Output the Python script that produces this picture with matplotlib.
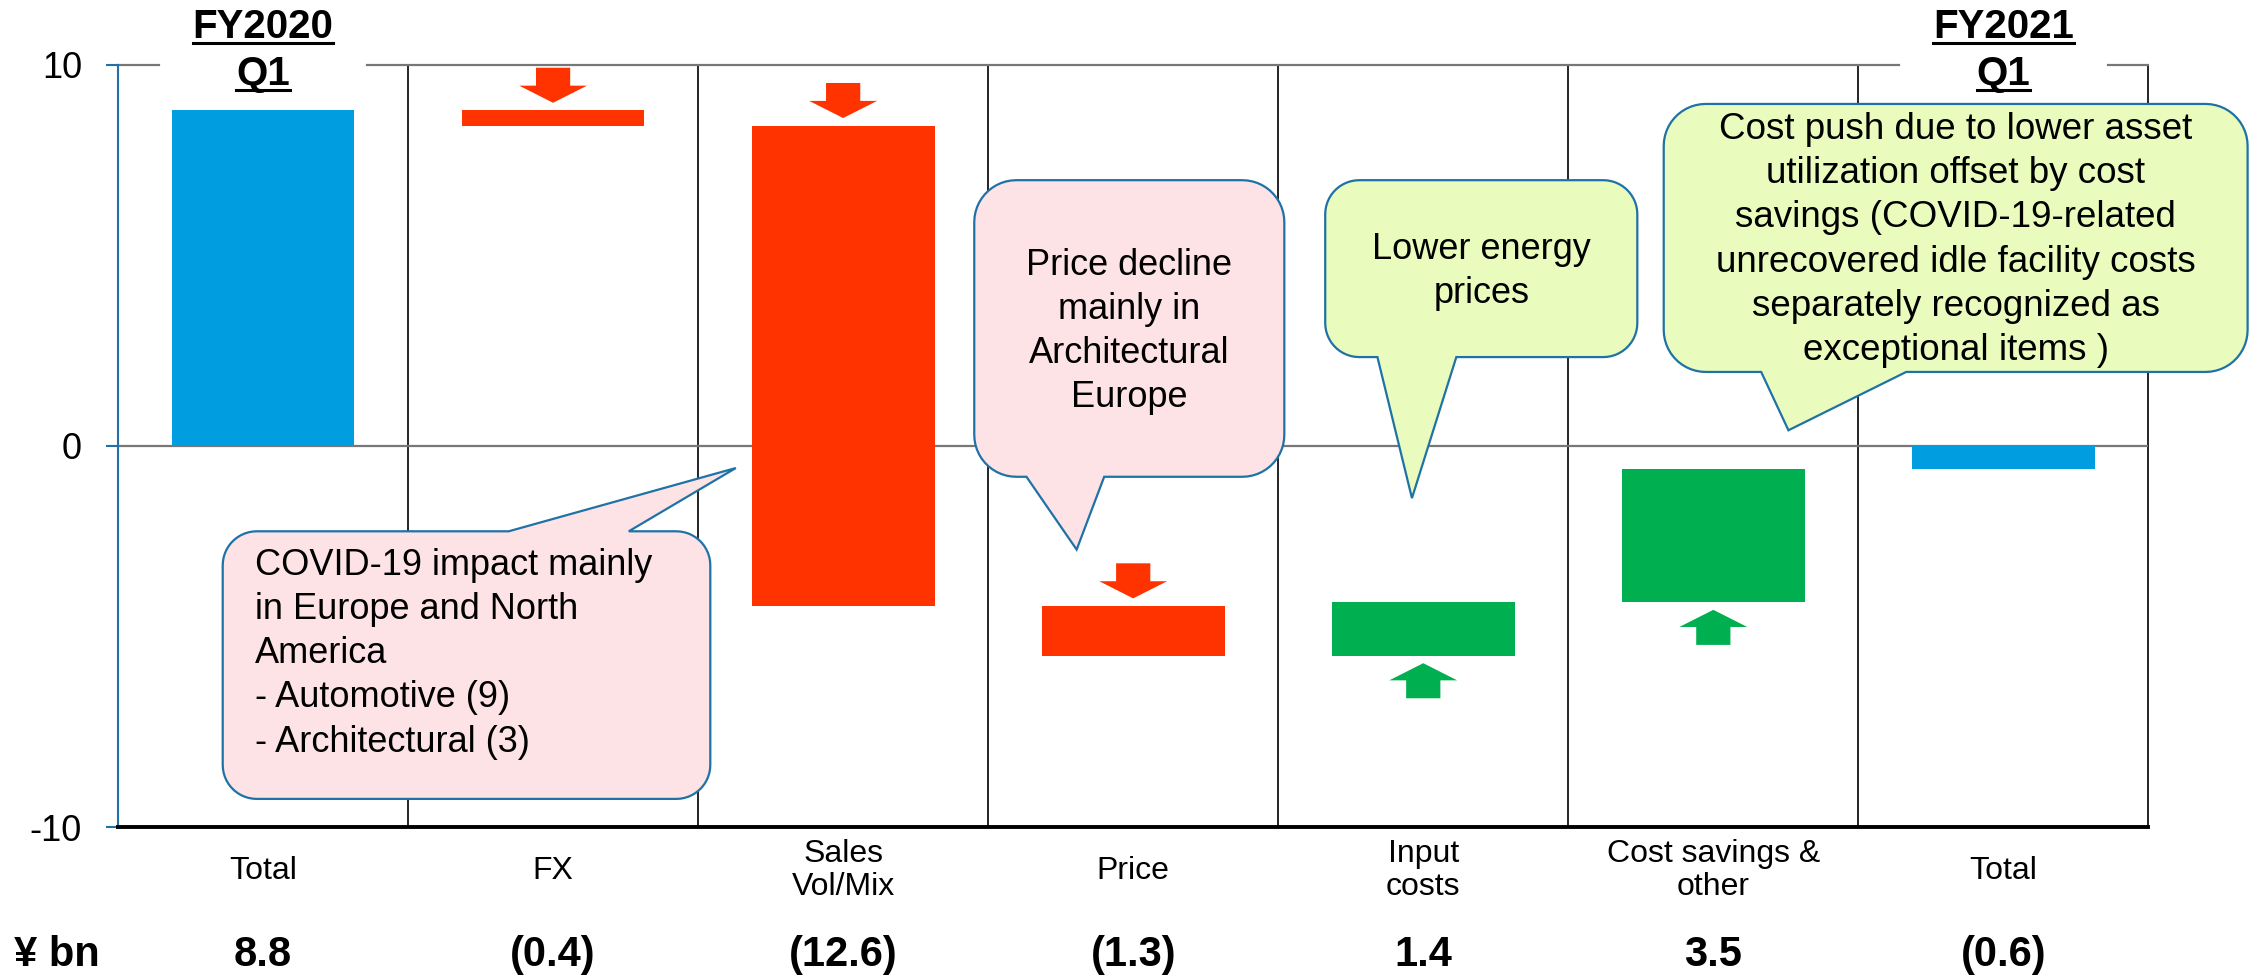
import matplotlib
matplotlib.use('Agg')
import matplotlib.pyplot as plt
import matplotlib.transforms as mtransforms
from matplotlib.patches import Polygon
import numpy as np

plt.rcParams['font.family'] = ['Liberation Sans', 'DejaVu Sans']

# data
categories = ['Total', 'FX', 'Sales\nVol/Mix', 'Price', 'Input\ncosts', 'Cost savings &\nother', 'Total']
changes = [8.8, -0.4, -12.6, -1.3, 1.4, 3.5, -0.6]
value_labels = ['8.8', '(0.4)', '(12.6)', '(1.3)', '1.4', '3.5', '(0.6)']
is_total = [True, False, False, False, False, False, True]
header_years = ['FY2020', 'FY2021']
header_cols = [0, 6]
header_quarter = 'Q1'
unit_label = '¥ bn'

callout_texts = [
    'COVID-19 impact mainly\nin Europe and North\nAmerica\n- Automotive (9)\n- Architectural (3)',
    'Price decline\nmainly in\nArchitectural\nEurope',
    'Lower energy\nprices',
    'Cost push due to lower asset\nutilization offset by cost\nsavings (COVID-19-related\nunrecovered idle facility costs\nseparately recognized as\nexceptional items )',
]

BLUE = '#009EE0'
RED = '#FF3300'
GREEN = '#00B050'
PINK = '#FDE3E6'
LIME = '#E9FCBD'
EDGE = '#1F72A6'

# waterfall geometry
bottoms, heights, colors = [], [], []
running = 0.0
for v, tot in zip(changes, is_total):
    if tot:
        bottoms.append(0.0)
        heights.append(v)
        colors.append(BLUE)
        running = v
    else:
        bottoms.append(running)
        heights.append(v)
        colors.append(GREEN if v > 0 else RED)
        running += v

fig = plt.figure(figsize=(22.52, 9.8), dpi=100)
ax = fig.add_axes([0.0524, 0.156, 0.9016, 0.778])
x = np.arange(len(categories))
ax.set_xlim(-0.5, len(categories) - 0.5)
ax.set_ylim(-10, 10)

px_x = fig.get_figwidth() * fig.dpi * 0.9016 / len(categories)
px_y = fig.get_figheight() * fig.dpi * 0.778 / 20

ax.bar(x, heights, bottom=bottoms, width=0.63, color=colors, zorder=3)

# separators and gridlines
for s in np.arange(len(categories)) + 0.5:
    ax.plot([s, s], [-10, 10], color='black', lw=1.2, zorder=1, clip_on=False)
ax.axhline(0, color='#777777', lw=1.6, zorder=1)
# top gridline, broken behind the period headers
gap = 0.36
edges = [-0.5]
for c in header_cols:
    edges += [c - gap, c + gap]
edges.append(len(categories) - 0.5)
for a, b in zip(edges[::2], edges[1::2]):
    if b > a:
        ax.plot([a, b], [10, 10], color='#777777', lw=1.6, zorder=1, clip_on=False)

# block arrows
def block_arrow(xc, tail, tip, color):
    d = np.sign(tip - tail)
    neck = tip - d * 0.45
    hw, sw = 0.117, 0.059
    pts = [(xc - sw, tail), (xc - sw, neck), (xc - hw, neck), (xc, tip),
           (xc + hw, neck), (xc + sw, neck), (xc + sw, tail)]
    ax.add_patch(Polygon(pts, closed=True, fc=color, ec='none', zorder=3))

for xi, b, h, tot, col in zip(x, bottoms, heights, is_total, colors):
    if tot:
        continue
    if h < 0:
        block_arrow(xi, b + 0.2 + 0.92, b + 0.2, col)
    else:
        block_arrow(xi, b - 0.2 - 0.92, b - 0.2, col)

# speech bubbles
def bubble(x0, x1, y0, y1, side, base, tip, fc, r=34):
    rx, ry = r / px_x, r / px_y
    n = 14
    pts = []
    def arc(cx, cy, a0, a1):
        for t in np.linspace(np.radians(a0), np.radians(a1), n):
            pts.append((cx + rx * np.cos(t), cy + ry * np.sin(t)))
    if side == 'bottom':
        pts += [(base[0], y0), tip, (base[1], y0)]
    arc(x1 - rx, y0 + ry, -90, 0)
    arc(x1 - rx, y1 - ry, 0, 90)
    if side == 'top':
        pts += [(base[1], y1), tip, (base[0], y1)]
    arc(x0 + rx, y1 - ry, 90, 180)
    arc(x0 + rx, y0 + ry, 180, 270)
    ax.add_patch(Polygon(pts, closed=True, fc=fc, ec=EDGE, lw=1.6, zorder=5,
                         joinstyle='miter', clip_on=False))

LS = 1.34
bubble(-0.139, 1.542, -9.26, -2.24, 'top', (0.847, 1.261), (1.63, -0.58), PINK)
ax.text(-0.028, -5.45, callout_texts[0], ha='left', va='center', fontsize=26,
        linespacing=LS, zorder=6)

bubble(2.452, 3.521, -0.81, 6.97, 'bottom', (2.632, 2.900), (2.805, -2.72), PINK, r=42)
ax.text(2.987, 3.0, callout_texts[1], ha='center', va='center', fontsize=26,
        linespacing=LS, zorder=6)

bubble(3.662, 4.738, 2.33, 6.97, 'bottom', (3.842, 4.114), (3.961, -1.37), LIME)
ax.text(4.2, 4.57, callout_texts[2], ha='center', va='center', fontsize=26,
        linespacing=LS, zorder=6)

bubble(4.829, 6.842, 1.94, 8.97, 'bottom', (5.165, 5.665), (5.259, 0.41), LIME, r=42)
ax.text(5.835, 5.40, callout_texts[3], ha='center', va='center', fontsize=26.5,
        linespacing=LS, zorder=6)

# axes styling
for sp in ['top', 'right']:
    ax.spines[sp].set_visible(False)
ax.spines['left'].set_color(EDGE)
ax.spines['left'].set_linewidth(1.5)
ax.spines['bottom'].set_color('black')
ax.spines['bottom'].set_linewidth(2.8)
ax.spines['bottom'].set_zorder(4)
ax.set_xticks([])
ax.set_yticks([-10, 0, 10])
ax.set_yticklabels(['-10', '0', '10'], fontsize=26)
ax.tick_params(axis='y', length=9, width=1.5, color=EDGE, pad=17)

# category labels and values
xtr = ax.get_xaxis_transform()
for xi, lab, val in zip(x, categories, value_labels):
    ax.text(xi, -0.057, lab, transform=xtr, ha='center', va='center',
            fontsize=23, linespacing=1.1)
    ax.text(xi, -0.168, val, transform=xtr, ha='center', va='center',
            fontsize=30, fontweight='bold')
ytr = mtransforms.blended_transform_factory(fig.transFigure, ax.transAxes)
fig.text(0.006, -0.168, unit_label, transform=ytr, ha='left', va='center',
         fontsize=30, fontweight='bold')

# period headers (bold, underlined)
head_texts = []
for c, yr in zip(header_cols, header_years):
    t1 = ax.text(c, 10.70, yr, ha='center', va='baseline', fontsize=29,
                 fontweight='bold', zorder=6)
    t2 = ax.text(c, 9.48, header_quarter, ha='center', va='baseline', fontsize=29,
                 fontweight='bold', zorder=6)
    head_texts += [(t1, 10.70), (t2, 9.48)]

fig.canvas.draw()
inv = ax.transData.inverted()
for t, base in head_texts:
    bb = t.get_window_extent()
    xa = inv.transform((bb.x0, bb.y0))[0]
    xb = inv.transform((bb.x1, bb.y0))[0]
    ax.plot([xa, xb], [base - 0.14, base - 0.14], color='black', lw=2.2,
            clip_on=False, zorder=6)

fig.savefig('out.png', dpi=100)
